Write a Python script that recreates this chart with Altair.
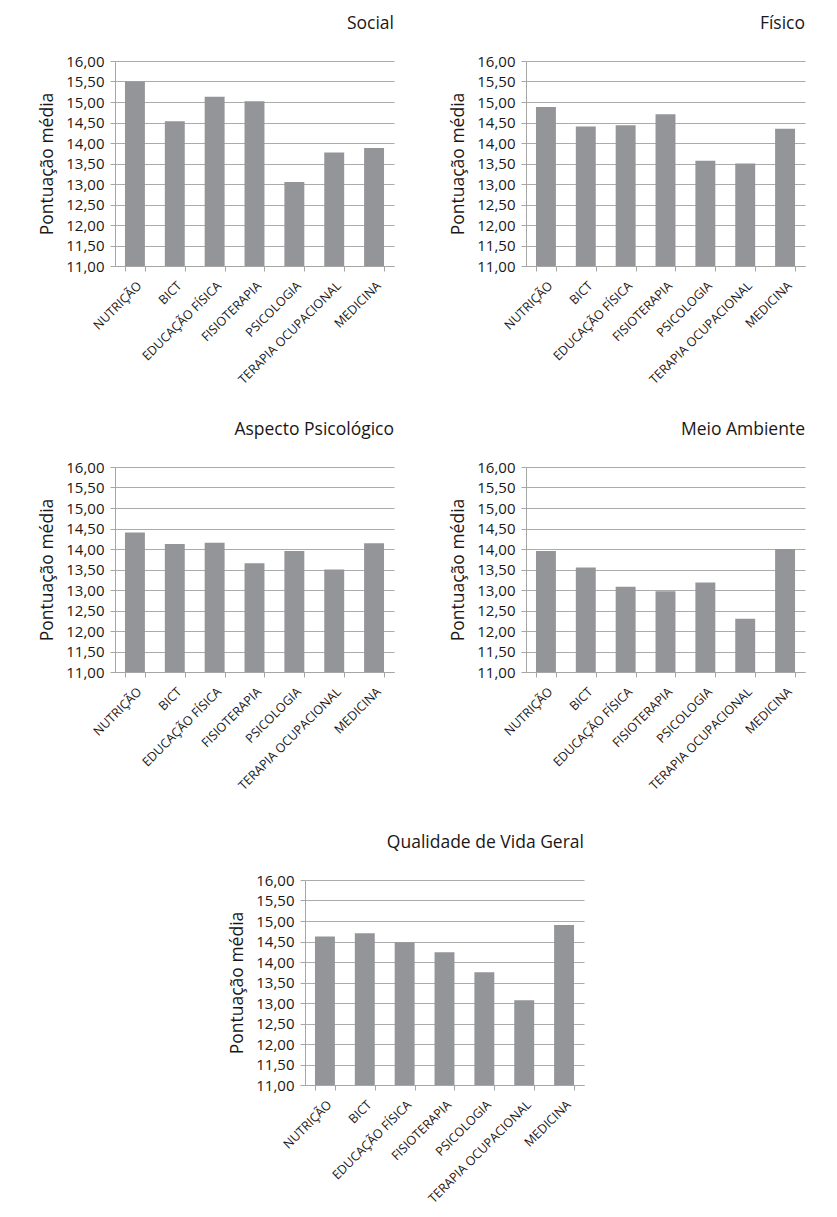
import altair as alt
import pandas as pd

cursos = ["NUTRIÇÃO", "BICT", "EDUCAÇÃO FÍSICA", "FISIOTERAPIA",
          "PSICOLOGIA", "TERAPIA OCUPACIONAL", "MEDICINA"]
social = [15.50, 14.53, 15.13, 15.02, 13.05, 13.77, 13.88]
fisico = [14.88, 14.40, 14.43, 14.70, 13.57, 13.50, 14.35]
psicologico = [14.40, 14.12, 14.15, 13.65, 13.95, 13.50, 14.14]
meio_ambiente = [13.95, 13.55, 13.08, 12.97, 13.18, 12.30, 14.00]
geral = [14.62, 14.70, 14.48, 14.24, 13.75, 13.07, 14.90]
y_ticks = [11.0, 11.5, 12.0, 12.5, 13.0, 13.5, 14.0, 14.5, 15.0, 15.5, 16.0]

FONT = "Open Sans"
TEXT = "#1a1718"
GRID = "#ababab"


def panel(title, values, width=279, height=205, offset=22):
    df = pd.DataFrame({"curso": cursos, "valor": values})
    return alt.Chart(
        df,
        title=alt.TitleParams(title, anchor="end", fontSize=17.5, font=FONT,
                              fontWeight="normal", color=TEXT, offset=offset),
    ).mark_bar(color="#939598").encode(
        x=alt.X("curso:N", sort=cursos, title=None,
                scale=alt.Scale(paddingInner=0.5, paddingOuter=0.25),
                axis=alt.Axis(labelAngle=-45, tickBand="extent", grid=False,
                              labelFontSize=12.5, labelPadding=8)),
        y=alt.Y("valor:Q", title="Pontuação média",
                scale=alt.Scale(domain=[11, 16], zero=False, nice=False),
                axis=alt.Axis(values=y_ticks,
                              labelExpr="replace(format(datum.value, '.2f'), '.', ',')",
                              labelFontSize=15, titleFontSize=17.5, titlePadding=9,
                              labelPadding=6, grid=True, gridColor=GRID)),
        y2=alt.datum(11),
    ).properties(width=width, height=height)


p1 = panel("Social", social)
p2 = panel("Físico", fisico)
p3 = panel("Aspecto Psicológico", psicologico)
p4 = panel("Meio Ambiente", meio_ambiente)
p5 = panel("Qualidade de Vida Geral", geral)

spacer = alt.Chart(pd.DataFrame({"v": [0]})).mark_text(text="").encode(
    x=alt.value(0), y=alt.value(0)
).properties(width=113, height=10)

row1 = alt.hconcat(p1, p2, spacing=55)
row2 = alt.hconcat(p3, p4, spacing=55)
row3 = alt.hconcat(spacer, p5, spacing=0)

top = alt.vconcat(row1, row2, spacing=34)

chart = alt.vconcat(top, row3, spacing=41).properties(
    padding={"left": 30, "top": 6, "right": 5, "bottom": 5}
).configure_view(stroke=None).configure_axis(
    labelFont=FONT, titleFont=FONT, labelColor=TEXT, titleColor=TEXT,
    titleFontWeight="normal", domainColor="#a6a6a6", tickColor="#a6a6a6",
    tickSize=5
)

chart.save("out.html", embed_options={"renderer": "svg", "actions": False})
